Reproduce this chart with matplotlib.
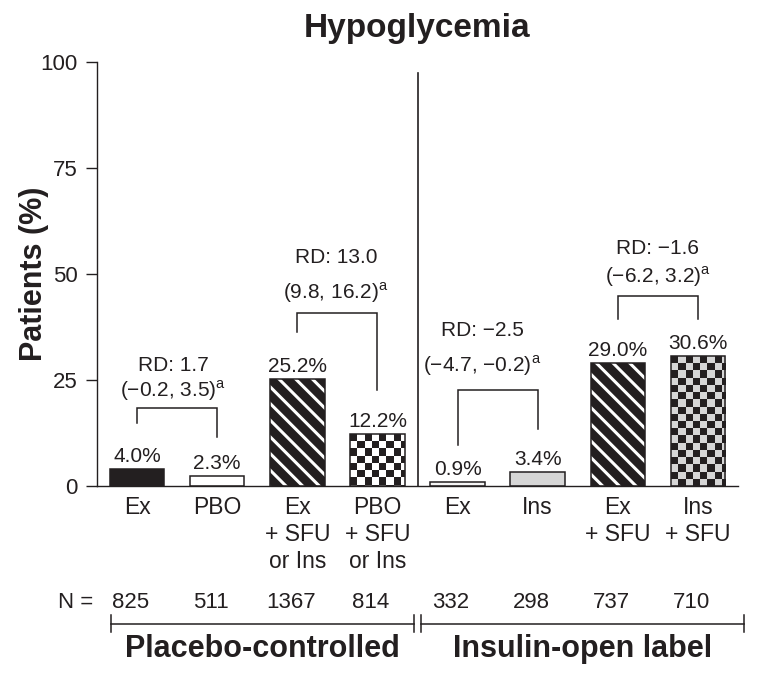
import numpy as np
import matplotlib
matplotlib.use('Agg')
import matplotlib.pyplot as plt
from matplotlib.colors import ListedColormap
from matplotlib.transforms import blended_transform_factory

INK = '#231f20'
plt.rcParams['font.family'] = ['Liberation Sans', 'DejaVu Sans']
plt.rcParams['mathtext.fontset'] = 'custom'
plt.rcParams['mathtext.rm'] = 'Liberation Sans'
plt.rcParams['hatch.linewidth'] = 2.2
for k in ['text.color', 'axes.labelcolor', 'xtick.color', 'ytick.color', 'axes.edgecolor']:
    plt.rcParams[k] = INK

# --- data ---
categories = ['Ex', 'PBO', 'Ex\n+ SFU\nor Ins', 'PBO\n+ SFU\nor Ins',
              'Ex', 'Ins', 'Ex\n+ SFU', 'Ins\n+ SFU']
pct = [4.0, 2.3, 25.2, 12.2, 0.9, 3.4, 29.0, 30.6]
n_patients = [825, 511, 1367, 814, 332, 298, 737, 710]
groups = ['Placebo-controlled', 'Insulin-open label']

# risk differences between pairs of bars
pairs = [(0, 1), (2, 3), (4, 5), (6, 7)]
rd_text = ['RD: 1.7', 'RD: 13.0', 'RD: \u22122.5', 'RD: \u22121.6']
ci_text = ['(\u22120.2, 3.5)', '(9.8, 16.2)', '(\u22124.7, \u22120.2)', '(\u22126.2, 3.2)']

# --- annotation layout (y in % units) ---
leg_a = [14.9, 36.3, 9.7, 39.3]
leg_b = [11.6, 22.6, 13.4, 39.3]
bracket_top = [18.5, 40.8, 22.6, 44.8]
ci_y = [22.6, 45.5, 28.5, 49.3]
rd_y = [28.5, 54.0, 36.6, 56.1]
text_x = [0.45, 2.48, 4.31, 6.5]

face = [INK, 'white', INK, 'white', '#f4f4f4', '#d6d6d6', INK, '#d6d6d6']
fill_style = ['solid', 'solid', 'stripe', 'checker', 'solid', 'solid', 'stripe', 'checker']

fig = plt.figure(figsize=(7.58, 6.82), dpi=100)
ax = fig.add_axes([0.128, 0.2874, 0.8456, 0.6217])

x = np.arange(len(pct))
width = 0.68
hatch_edge = ['white' if s == 'stripe' else INK for s in fill_style]
bars = ax.bar(x, pct, width=width, color=face, edgecolor=hatch_edge, linewidth=0, zorder=2)
for b, s in zip(bars, fill_style):
    if s == 'stripe':
        b.set_hatch('\\\\')

# checkerboard fill, clipped to the bar
sq_x, sq_y = 0.09, 1.7
for b, s, c in zip(bars, fill_style, face):
    if s != 'checker':
        continue
    x0, w, h = b.get_x(), b.get_width(), b.get_height()
    nx = int(np.ceil(w / sq_x))
    ny = int(np.ceil(h / sq_y))
    grid = np.indices((ny, nx)).sum(axis=0) % 2
    im = ax.imshow(grid, cmap=ListedColormap([INK, c]), vmin=0, vmax=1,
                   extent=(x0, x0 + nx * sq_x, h - ny * sq_y, h), origin='upper',
                   interpolation='nearest', aspect='auto', zorder=2.5)
    im.set_clip_path(b)

# outlines on top
ax.bar(x, pct, width=width, fill=False, edgecolor=INK, linewidth=1.1, zorder=3)

for xi, v in zip(x, pct):
    ax.annotate(f'{v:.1f}%', (xi, v), xytext=(0, 2), textcoords='offset points',
                ha='center', va='bottom', fontsize=15)

for i, (a, b) in enumerate(pairs):
    ax.plot([a, a, b, b], [leg_a[i], bracket_top[i], bracket_top[i], leg_b[i]],
            color=INK, lw=1.1, solid_joinstyle='miter', zorder=3)
    ax.text(text_x[i], rd_y[i], rd_text[i], ha='center', va='center', fontsize=15)
    ax.text(text_x[i], ci_y[i], ci_text[i] + r'$^{\mathregular{a}}$',
            ha='center', va='center', fontsize=15)

ax.axvline(3.5, ymin=0, ymax=0.975, color=INK, lw=1.2)

ax.set_xlim(-0.5, 7.5)
ax.set_ylim(0, 100)
ax.set_yticks([0, 25, 50, 75, 100])
ax.set_xticks(x)
ax.set_xticklabels(categories, fontsize=16.5)
for lbl in ax.get_xticklabels():
    lbl.set_linespacing(1.22)
ax.tick_params(axis='x', length=0, pad=7)
ax.tick_params(axis='y', length=8, width=1, pad=6, labelsize=16)
for side in ['top', 'right']:
    ax.spines[side].set_visible(False)
for side in ['left', 'bottom']:
    ax.spines[side].set_linewidth(1)

ax.set_ylabel('Patients (%)', fontsize=22, fontweight='bold', labelpad=-6)
ax.set_title('Hypoglycemia', fontsize=24, fontweight='bold', pad=18)

# N row and group brackets below the axis
trans = blended_transform_factory(ax.transData, ax.transAxes)
ax.text(-0.55, -0.274, 'N =', ha='right', va='center', fontsize=16, transform=trans)
for xi, n in zip(x, n_patients):
    ax.text(xi - 0.08, -0.274, str(n), ha='center', va='center', fontsize=16, transform=trans)

line_y = -0.325
spans = [(-0.33, 3.46), (3.54, 7.57)]
for (s0, s1), name in zip(spans, groups):
    ax.plot([s0, s1], [line_y, line_y], color=INK, lw=1.1, transform=trans, clip_on=False)
    for e in (s0, s1):
        ax.plot([e, e], [line_y - 0.02, line_y + 0.02], color=INK, lw=1.1,
                transform=trans, clip_on=False)
    ax.text((s0 + s1) / 2, -0.384, name, ha='center', va='center', fontsize=22,
            fontweight='bold', transform=trans)

fig.savefig('out.png', dpi=100)
